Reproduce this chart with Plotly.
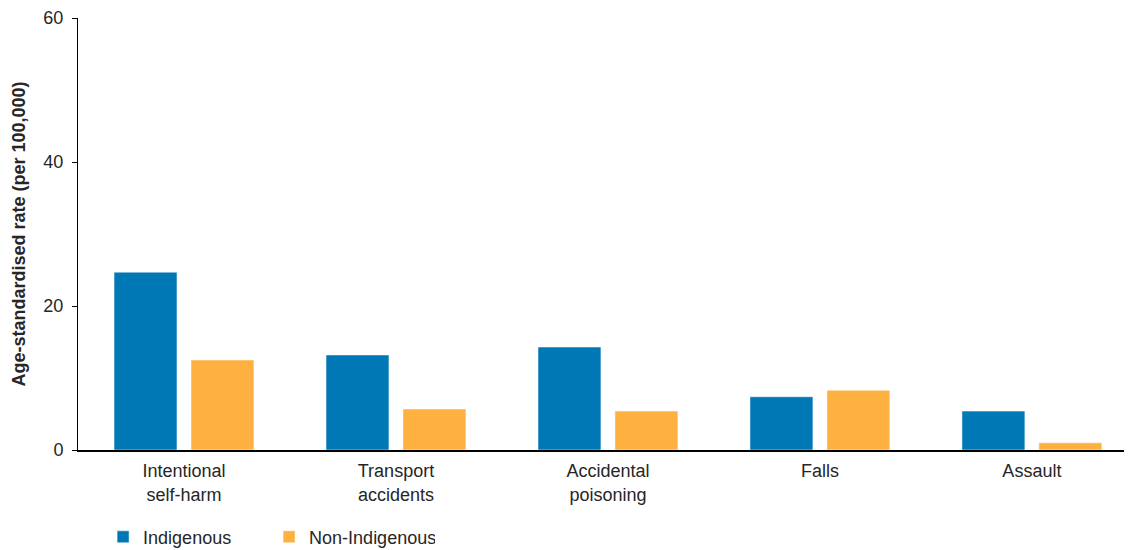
import plotly.graph_objects as go

categories = ["Intentional<br>self-harm", "Transport<br>accidents", "Accidental<br>poisoning", "Falls", "Assault"]
indigenous = [24.7, 13.2, 14.3, 7.4, 5.4]
non_indigenous = [12.5, 5.7, 5.4, 8.3, 1.0]
y_ticks = [0, 20, 40, 60]

BLUE = "#0078B5"
ORANGE = "#FEB041"
TEXT = "#262626"
FONT = "Liberation Sans, Arial, sans-serif"

fig = go.Figure()
fig.add_trace(go.Bar(x=categories, y=indigenous, name="Indigenous",
                     marker=dict(color=BLUE, line=dict(color="rgba(255,255,255,0.5)", width=1))))
fig.add_trace(go.Bar(x=categories, y=non_indigenous, name="Non-Indigenous",
                     marker=dict(color=ORANGE, line=dict(color="rgba(255,255,255,0.5)", width=1))))

fig.update_layout(
    width=1132, height=550,
    margin=dict(l=70, r=0, t=10, b=108, autoexpand=False),
    paper_bgcolor="white", plot_bgcolor="white",
    font=dict(family=FONT, size=18, color=TEXT),
    barmode="group", bargap=0.274, bargroupgap=0.182,
    legend=dict(orientation="h", xref="container", yref="container",
                x=0.084, y=0.038, xanchor="left", yanchor="middle",
                entrywidth=121, entrywidthmode="pixels",
                font=dict(size=18, color=TEXT), itemwidth=30),
    showlegend=True,
)
fig.update_xaxes(
    type="category", range=[-0.5, 4.51], automargin=False,
    showline=True, linecolor="#000000", linewidth=1.5,
    ticks="", ticklabelstandoff=4, showgrid=False, zeroline=False,
    tickfont=dict(size=18, color=TEXT),
)
fig.update_yaxes(
    range=[0, 60], tickvals=y_ticks, ticktext=[str(v) for v in y_ticks],
    automargin=False,
    showline=True, linecolor="#000000", linewidth=1,
    ticks="outside", ticklen=5, tickcolor="#000000", ticklabelstandoff=5,
    showgrid=False, zeroline=False,
    tickfont=dict(size=18, color=TEXT),
    title=dict(text="<b>Age-standardised rate (per 100,000)</b>", font=dict(size=18, color=TEXT), standoff=13),
)

fig.write_html("out.html")
